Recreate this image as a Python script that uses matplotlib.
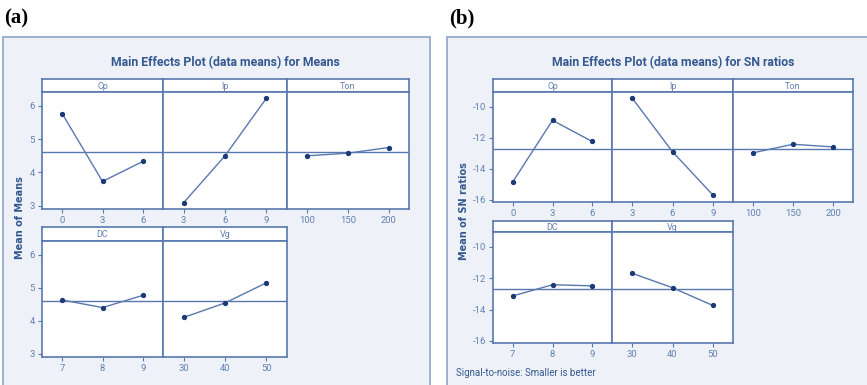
import matplotlib
matplotlib.use("Agg")
import matplotlib.pyplot as plt
from matplotlib.patches import Rectangle

# data
factors = ['Cp', 'Ip', 'Ton', 'DC', 'Vg']
levels = [['0', '3', '6'], ['3', '6', '9'], ['100', '150', '200'], ['7', '8', '9'], ['30', '40', '50']]
means = [[5.77, 3.73, 4.33], [3.09, 4.50, 6.23], [4.50, 4.58, 4.75], [4.63, 4.40, 4.77], [4.10, 4.54, 5.15]]
mean_all = 4.60
sn = [[-14.83, -10.88, -12.24], [-9.45, -12.90, -15.68], [-12.97, -12.42, -12.59],
      [-13.13, -12.42, -12.49], [-11.69, -12.61, -13.74]]
sn_all = -12.70

W, H = 867, 385
BLUE = '#5878ae'
DARK = '#1c3a78'
TXT = '#6280b0'
TITLE = '#34588f'
BG = '#eef2f8'
NARROW = ['Roboto', 'DejaVu Sans']

fig = plt.figure(figsize=(W / 100, H / 100), dpi=100)
fig.patch.set_facecolor('white')


def box(x0, y0, x1, y1):
    return [x0 / W, 1 - y1 / H, (x1 - x0) / W, (y1 - y0) / H]


def frame(x0, y0, x1, y1):
    r = Rectangle((x0 / W, 1 - y1 / H), (x1 - x0) / W, (y1 - y0) / H,
                  transform=fig.transFigure, facecolor=BG, edgecolor='#8da5c9', lw=1.2, zorder=-5)
    fig.patches.append(r)


def panel(cols, rows, vals, ref, ylim, yticks, title, ylabel, tx, ty, lx):
    for i in range(len(factors)):
        r, c = divmod(i, 3)
        x0, x1 = cols[c], cols[c + 1]
        s0, s1, p1 = rows[r]
        # strip
        st = fig.add_axes(box(x0, s0, x1, s1))
        st.set_facecolor('white')
        st.set_xticks([]); st.set_yticks([])
        for sp in st.spines.values():
            sp.set_color(BLUE); sp.set_linewidth(1.2)
        st.text(0.5, 0.45, factors[i], ha='center', va='center', fontsize=6.5,
                color=TXT, transform=st.transAxes, family=NARROW)
        # plot
        ax = fig.add_axes(box(x0, s1, x1, p1))
        ax.set_facecolor('white')
        xs = [1, 2, 3]
        ax.axhline(ref, color=BLUE, lw=1.0)
        ax.plot(xs, vals[i], color=BLUE, lw=1.0)
        ax.plot(xs, vals[i], 'o', color=DARK, ms=2.8)
        ax.set_xlim(0.5, 3.5)
        ax.set_ylim(*ylim)
        ax.set_xticks(xs)
        ax.set_xticklabels(levels[i], family=NARROW)
        if c == 0:
            ax.set_yticks(yticks)
            ax.set_yticklabels([str(t) for t in yticks], family=NARROW)
        else:
            ax.set_yticks([])
        ax.tick_params(colors=BLUE, labelcolor=TXT, labelsize=6.8, length=3, width=0.8, pad=2)
        for sp in ax.spines.values():
            sp.set_color(BLUE); sp.set_linewidth(1.2)
    fig.text(tx / W, 1 - ty / H, title, ha='center', va='center', fontsize=8.8,
             fontweight='bold', color=TITLE, family=NARROW)
    fig.text(lx / W, 1 - (rows[0][0] + rows[1][2]) / 2 / H, ylabel, rotation=90,
             ha='center', va='center', fontsize=7, fontweight='bold', color=TITLE)


frame(3, 37, 430, 390)
frame(447, 37, 870, 390)

panel([42, 163, 287, 409], [(79, 92, 209), (227, 241, 357)], means, mean_all,
      (2.9, 6.42), [3, 4, 5, 6], 'Main Effects Plot (data means) for Means',
      'Mean of Means', 225, 63, 20)
panel([493, 612, 733, 853], [(79, 92, 202), (221, 232, 343)], sn, sn_all,
      (-16.13, -9.06), [-16, -14, -12, -10], 'Main Effects Plot (data means) for SN ratios',
      'Mean of SN ratios', 673, 63, 464)

fig.text(456 / W, 1 - 373 / H, 'Signal-to-noise: Smaller is better', ha='left', va='center',
         fontsize=7, color=TITLE, family=NARROW)

fig.text(4 / W, 1 - 18 / H, '(a)', ha='left', va='center', fontsize=15, fontweight='bold',
         family=['Liberation Serif', 'DejaVu Serif'])
fig.text(449 / W, 1 - 18 / H, '(b)', ha='left', va='center', fontsize=15, fontweight='bold',
         family=['Liberation Serif', 'DejaVu Serif'])

fig.savefig('out.png', dpi=100)
